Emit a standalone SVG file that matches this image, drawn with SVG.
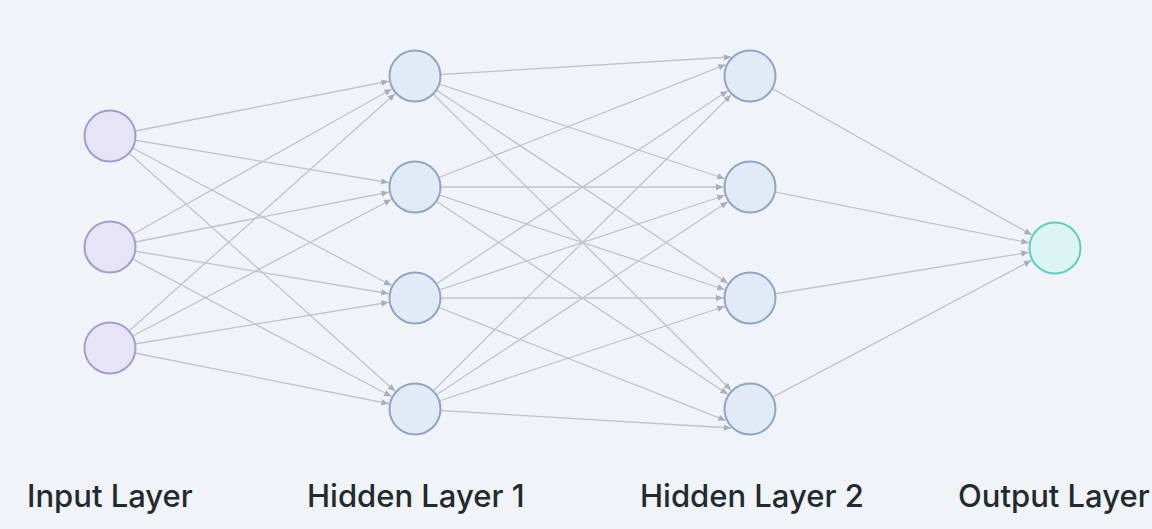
<svg xmlns="http://www.w3.org/2000/svg" width="1152" height="529" viewBox="0 0 1152 529">
<defs>
<marker id="arr" markerUnits="userSpaceOnUse" markerWidth="80" markerHeight="20" refX="0" refY="0" orient="auto" overflow="visible">
<path d="M-34,-3.2 L-27,0 L-34,3.2 z" fill="#a9afb8"/>
</marker>
<marker id="arr0" markerUnits="userSpaceOnUse" markerWidth="20" markerHeight="20" refX="0" refY="0" orient="auto" overflow="visible">
<path d="M-7,-3.2 L0,0 L-7,3.2 z" fill="#a9afb8"/>
</marker>
<style>
.e{stroke:#bfc4cc;stroke-width:1.3;fill:none;marker-end:url(#arr)}
.e2{stroke:#bfc4cc;stroke-width:1.3;fill:none;marker-end:url(#arr0)}
.in{fill:#e7e4f7;stroke:#a69ccd;stroke-width:2}
.hd{fill:#e2eaf6;stroke:#8fa5c6;stroke-width:2}
.out{fill:#dbf5f2;stroke:#5ccfc3;stroke-width:2}
.lbl{font-family:Inter,"Liberation Sans",sans-serif;font-size:31px;font-weight:500;fill:#1f2b2f}
</style>
</defs>
<rect width="1152" height="529" fill="#f0f3f7"/>
<g id="connectors">
<path class="e" d="M110,136 L415,76"/>
<path class="e" d="M110,136 L415,187"/>
<path class="e" d="M110,136 L415,298"/>
<path class="e" d="M110,136 L415,409"/>
<path class="e" d="M110,247 L415,76"/>
<path class="e" d="M110,247 L415,187"/>
<path class="e" d="M110,247 L415,298"/>
<path class="e" d="M110,247 L415,409"/>
<path class="e" d="M110,348 L415,76"/>
<path class="e" d="M110,348 L415,187"/>
<path class="e" d="M110,348 L415,298"/>
<path class="e" d="M110,348 L415,409"/>
<path class="e2" d="M415,76 L731,57"/>
<path class="e" d="M415,76 L750,187"/>
<path class="e" d="M415,76 L750,298"/>
<path class="e" d="M415,76 L750,409"/>
<path class="e2" d="M415,187 L725.5,64.6"/>
<path class="e" d="M415,187 L750,187"/>
<path class="e" d="M415,187 L750,298"/>
<path class="e" d="M415,187 L750,409"/>
<path class="e" d="M415,298 L750,76"/>
<path class="e" d="M415,298 L750,187"/>
<path class="e" d="M415,298 L750,298"/>
<path class="e2" d="M415,298 L725.5,420.4"/>
<path class="e" d="M415,409 L750,76"/>
<path class="e" d="M415,409 L750,187"/>
<path class="e" d="M415,409 L750,298"/>
<path class="e2" d="M415,409 L731,428"/>
<path class="e" d="M750,76 L1055,248"/>
<path class="e" d="M750,187 L1055,248"/>
<path class="e" d="M750,298 L1055,248"/>
<path class="e" d="M750,409 L1055,248"/>
</g>
<g id="input1"><circle class="in" cx="110" cy="136" r="25.5"/></g>
<g id="input2"><circle class="in" cx="110" cy="247" r="25.5"/></g>
<g id="input3"><circle class="in" cx="110" cy="348" r="25.5"/></g>
<g id="h1n1"><circle class="hd" cx="415" cy="76" r="25.5"/></g>
<g id="h1n2"><circle class="hd" cx="415" cy="187" r="25.5"/></g>
<g id="h1n3"><circle class="hd" cx="415" cy="298" r="25.5"/></g>
<g id="h1n4"><circle class="hd" cx="415" cy="409" r="25.5"/></g>
<g id="h2n1"><circle class="hd" cx="750" cy="76" r="25.5"/></g>
<g id="h2n2"><circle class="hd" cx="750" cy="187" r="25.5"/></g>
<g id="h2n3"><circle class="hd" cx="750" cy="298" r="25.5"/></g>
<g id="h2n4"><circle class="hd" cx="750" cy="409" r="25.5"/></g>
<g id="output"><circle class="out" cx="1055" cy="248" r="25.5"/></g>
<g id="labels">
<text class="lbl" x="27" y="507">Input Layer</text>
<text class="lbl" x="307" y="507">Hidden Layer 1</text>
<text class="lbl" x="640" y="507">Hidden Layer 2</text>
<text class="lbl" x="958" y="507">Output Layer</text>
</g>
</svg>
